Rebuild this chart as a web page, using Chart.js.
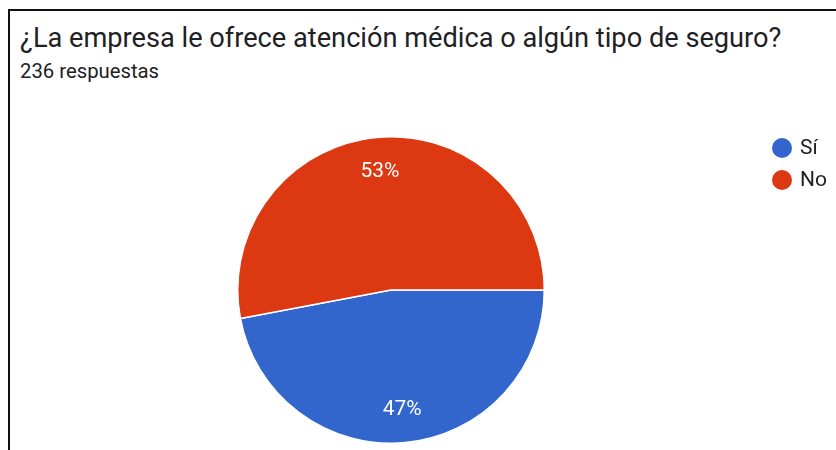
<!DOCTYPE html>
<html lang="es">
<head>
<meta charset="UTF-8">
<title>Seguro</title>
<style>
  html, body { margin: 0; padding: 0; background: #fff; }
  body { width: 836px; height: 450px; position: relative; overflow: hidden; font-family: Roboto, Arial, sans-serif; }
  .frame { position: absolute; left: 8px; top: 9px; right: -4px; bottom: -4px; border-left: 2px solid #111; border-top: 2px solid #111; }
  .title { position: absolute; left: 20px; top: 23px; font-size: 27.2px; line-height: 1.17; color: #202124; white-space: nowrap; }
  .sub { position: absolute; left: 20px; top: 60px; font-size: 20.3px; line-height: 1.17; color: #202124; white-space: nowrap; }
  #chartBox { position: absolute; left: 0; top: 0; width: 836px; height: 450px; }
</style>
</head>
<body>
<div class="frame"></div>
<div class="title">¿La empresa le ofrece atención médica o algún tipo de seguro?</div>
<div class="sub">236 respuestas</div>
<div id="chartBox"><canvas id="myChart"></canvas></div>

<script src="https://cdn.jsdelivr.net/npm/chart.js@4.4.1/dist/chart.umd.min.js"></script>
<script>
    // answers
    const labels = ['Sí', 'No'];
    const counts = [111, 125];
    const colors = ['#3366cc', '#dc3912'];

    // percentage labels inside the slices
    const pctLabels = {
        id: 'pctLabels',
        afterDatasetsDraw(chart) {
            const ctx = chart.ctx;
            const total = counts.reduce((a, b) => a + b, 0);
            ctx.save();
            ctx.fillStyle = '#ffffff';
            ctx.font = '21px Roboto, Arial, sans-serif';
            ctx.textAlign = 'center';
            ctx.textBaseline = 'middle';
            chart.getDatasetMeta(0).data.forEach(function (arc, i) {
                const p = arc.getProps(['x', 'y', 'startAngle', 'endAngle', 'outerRadius'], true);
                const mid = (p.startAngle + p.endAngle) / 2;
                const r = p.outerRadius * 0.78;
                const txt = Math.round(counts[i] / total * 100) + '%';
                ctx.fillText(txt, p.x + Math.cos(mid) * r, p.y + Math.sin(mid) * r + 1);
            });
            ctx.restore();
        }
    };

    // legend on the right, google forms style
    const sideLegend = {
        id: 'sideLegend',
        afterDraw(chart) {
            const ctx = chart.ctx;
            ctx.save();
            ctx.font = '21px Roboto, Arial, sans-serif';
            ctx.textBaseline = 'middle';
            ctx.textAlign = 'left';
            labels.forEach(function (lab, i) {
                const y = 148 + i * 32;
                ctx.beginPath();
                ctx.arc(782, y, 10, 0, Math.PI * 2);
                ctx.fillStyle = colors[i];
                ctx.fill();
                ctx.fillStyle = '#222222';
                ctx.fillText(lab, 800, y + 1);
            });
            ctx.restore();
        }
    };

    const ctx1 = document.getElementById('myChart').getContext('2d');
    const myChart = new Chart(ctx1, {
        type: 'pie',
        data: {
            labels: labels,
            datasets: [{
                data: counts,
                backgroundColor: colors,
                borderColor: '#ffffff',
                borderWidth: 1.5
            }]
        },
        options: {
            responsive: true,
            maintainAspectRatio: false,
            animation: false,
            rotation: 90,
            layout: {
                padding: { left: 237, right: 291, top: 136, bottom: 6 }
            },
            plugins: {
                legend: { display: false },
                tooltip: { enabled: false }
            }
        },
        plugins: [pctLabels, sideLegend]
    });
</script>
</body>
</html>
